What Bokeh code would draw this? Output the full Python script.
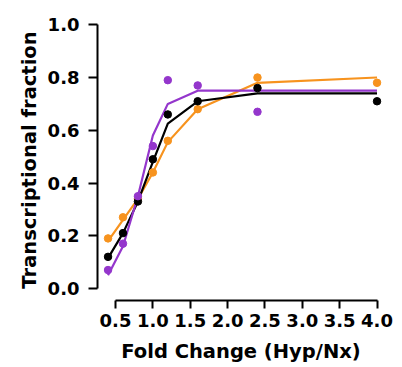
from bokeh.plotting import figure
from bokeh.models import Range1d, FixedTicker, NumeralTickFormatter
from bokeh.embed import file_html
from bokeh.resources import INLINE

x = [0.4, 0.6, 0.8, 1.0, 1.2, 1.6, 2.4, 4.0]
black_pts = [0.12, 0.21, 0.33, 0.49, 0.66, 0.71, 0.76, 0.71]
orange_pts = [0.19, 0.27, 0.34, 0.44, 0.56, 0.68, 0.80, 0.78]
purple_x = [0.4, 0.6, 0.8, 1.0, 1.2, 1.6, 2.4]
purple_pts = [0.07, 0.17, 0.35, 0.54, 0.79, 0.77, 0.67]

black_fit = [0.115, 0.21, 0.33, 0.48, 0.625, 0.71, 0.74, 0.74]
orange_fit = [0.18, 0.26, 0.34, 0.44, 0.555, 0.68, 0.78, 0.80]
purple_fit = [0.05, 0.16, 0.35, 0.58, 0.70, 0.75, 0.75, 0.75]

x_ticks = [0.5, 1.0, 1.5, 2.0, 2.5, 3.0, 3.5, 4.0]
y_ticks = [0.0, 0.2, 0.4, 0.6, 0.8, 1.0]

ORANGE = "#f7931e"
PURPLE = "#9436cc"
BLACK = "#000000"
FONT = "DejaVu Sans"

p = figure(output_backend="svg", toolbar_location=None,
           frame_width=287, frame_height=281,
           min_border_left=97, min_border_right=10,
           min_border_top=19, min_border_bottom=67,
           x_range=Range1d(0.259, 4.1), y_range=Range1d(-0.0455, 1.02))
p.outline_line_color = None
p.grid.visible = False

p.line(x, orange_fit, line_color=ORANGE, line_width=2.2)
p.line(x, black_fit, line_color=BLACK, line_width=2.2)
p.line(x, purple_fit, line_color=PURPLE, line_width=2.2)
p.scatter(x, orange_pts, size=7.5, color=ORANGE)
p.scatter(x, black_pts, size=7.5, color=BLACK)
p.scatter(purple_x, purple_pts, size=7.5, color=PURPLE)

for ax in (p.xaxis[0], p.yaxis[0]):
    ax.axis_line_width = 2
    ax.major_tick_line_width = 2
    ax.minor_tick_line_color = None
    ax.major_tick_in = 0
    ax.major_label_text_font = FONT
    ax.major_label_text_font_style = "bold"
    ax.major_label_text_font_size = "18px"
    ax.major_label_text_color = "black"
    ax.axis_label_text_font = FONT
    ax.axis_label_text_font_style = "bold"
    ax.axis_label_text_font_size = "19.5px"
    ax.axis_label_text_color = "black"

p.xaxis.ticker = FixedTicker(ticks=x_ticks)
p.xaxis.formatter = NumeralTickFormatter(format="0.0")
p.xaxis.bounds = (0.5, 4.0)
p.xaxis.major_tick_out = 8
p.xaxis.major_label_standoff = 5
p.xaxis.axis_label = "Fold Change (Hyp/Nx)"
p.xaxis.axis_label_standoff = 10

p.yaxis.ticker = FixedTicker(ticks=y_ticks)
p.yaxis.formatter = NumeralTickFormatter(format="0.0")
p.yaxis.bounds = (0.0, 1.0)
p.yaxis.major_tick_out = 9
p.yaxis.major_label_standoff = 9
p.yaxis.axis_label = "Transcriptional fraction"
p.yaxis.axis_label_standoff = 4

open("out.html", "w").write(file_html(p, INLINE))
